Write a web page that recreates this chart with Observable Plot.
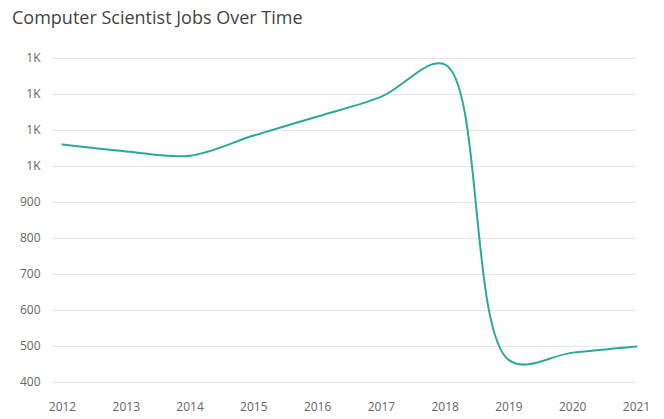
<!DOCTYPE html>
<html>
<head>
<meta charset="utf-8">
<script src="https://cdn.jsdelivr.net/npm/d3@7"></script>
<script src="https://cdn.jsdelivr.net/npm/@observablehq/plot@0.6"></script>
<style>
  body { margin: 0; background: #fff; font-family: "Open Sans", sans-serif; }
  #title { height: 38px; padding-left: 12px; font-size: 18px; line-height: 34px; color: #444; }
</style>
</head>
<body>
<div id="title">Computer Scientist Jobs Over Time</div>
<div id="chart"></div>
<script>
const years = [2012, 2013, 2014, 2015, 2016, 2017, 2018, 2019, 2020, 2021];
const jobs = [1061, 1042, 1030, 1086, 1139, 1194, 1283, 462, 483, 500];
const yTicks = [400, 500, 600, 700, 800, 900, 1000, 1100, 1200, 1300];
const yTickLabels = ["400", "500", "600", "700", "800", "900", "1K", "1K", "1K", "1K"];
const xTicks = years;

const data = years.map((y, i) => ({year: y, jobs: jobs[i]}));

const chart = Plot.plot({
  width: 664,
  height: 377,
  marginTop: 20,
  marginLeft: 52,
  marginRight: 28,
  marginBottom: 33,
  insetLeft: 10,
  style: {fontFamily: "Open Sans, sans-serif", fontSize: "12px", color: "#666", background: "#fff"},
  x: {domain: [2012, 2021], label: null},
  y: {domain: [400, 1300], label: null},
  marks: [
    Plot.gridY(yTicks, {stroke: "#e6e6e6", strokeOpacity: 1}),
    Plot.axisX({ticks: xTicks, tickFormat: d => String(d), tickSize: 0, tickPadding: 20, label: null, fill: "#666"}),
    Plot.axisY({ticks: yTicks, tickFormat: d => yTickLabels[yTicks.indexOf(d)], tickSize: 0, tickPadding: 12, label: null, fill: "#666"}),
    Plot.line(data, {x: "year", y: "jobs", stroke: "#2aaa9c", strokeWidth: 2, curve: "catmull-rom"})
  ]
});
document.getElementById("chart").appendChild(chart);
</script>
</body>
</html>
